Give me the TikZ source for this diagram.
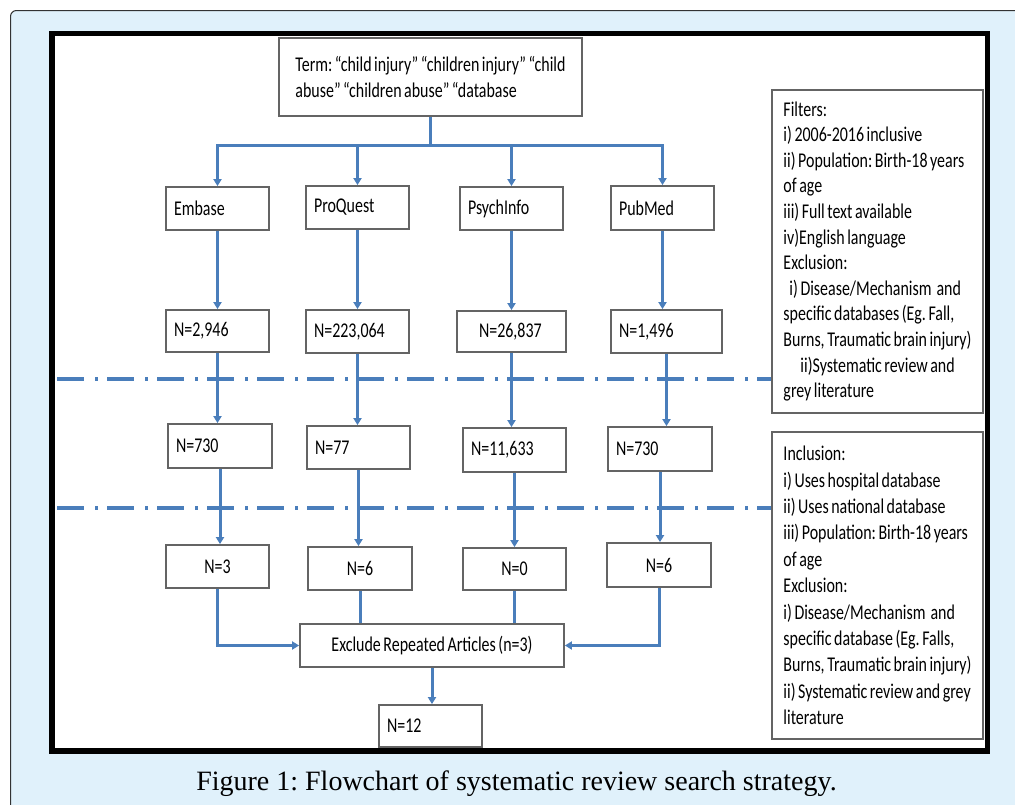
\documentclass[tikz,border=0pt]{standalone}
\usepackage{fontspec}
\setmainfont{Liberation Serif}
\newfontfamily\cf[FakeStretch=0.76,WordSpace=0.7]{Carlito}
\usetikzlibrary{arrows.meta}
\definecolor{panel}{HTML}{E0F1FB}
\definecolor{lnblue}{HTML}{4A7EBB}
\definecolor{boxgray}{HTML}{646464}
\tikzset{
  box/.style={draw=boxgray, line width=1.8pt, fill=white, font=\cf\fontsize{21}{26}\selectfont,
              inner xsep=8pt, inner ysep=0pt, align=flush left},
  cbox/.style={box, align=flush center},
  arr/.style={draw=lnblue, line width=3pt, -{Triangle[length=7pt,width=8pt]}},
  ln/.style={draw=lnblue, line width=3pt},
  dd/.style={draw=lnblue, line width=4pt, dash pattern=on 27pt off 11pt on 3pt off 9pt}
}
\begin{document}
\frenchspacing
\begin{tikzpicture}[x=1pt,y=-1pt]
\useasboundingbox (0,0) rectangle (1015,804);
\clip (0,0) rectangle (1015,804);
\draw[fill=panel, draw=black!80, line width=1pt, rounded corners=6pt] (10.5,10.5) rectangle (1040,830);
\draw[line width=5.5pt, fill=white] (52,33.5) rectangle (987.5,751);

% dash-dot separators
\coordinate (d1) at (57,379);
\coordinate (d2) at (57,508);

% nodes
\node[box, minimum width=303pt, minimum height=78pt] (term) at (430.5,77)
  {Term: “child injury” “children injury” “child\\abuse” “children abuse” “database};

\node[box, text width=87pt, minimum height=43pt] (emb) at (217.5,208.5) {Embase};
\node[box, text width=87pt, minimum height=43pt] (pq)  at (357.5,207.5) {ProQuest};
\node[box, text width=87pt, minimum height=43pt] (psy) at (511.5,208.5) {PsychInfo};
\node[box, text width=87pt, minimum height=44pt] (pm)  at (662.5,208) {PubMed};

\node[box, text width=87pt, minimum height=42pt] (n1) at (217.5,331) {N=2,946};
\node[box, text width=87pt, minimum height=43pt] (n2) at (357.5,331.5) {N=223,064};
\node[box, text width=93pt, minimum height=41pt] (n3) at (511.5,331.5) {\hspace*{14pt}N=26,837};
\node[box, text width=95pt, minimum height=43pt] (n4) at (666.5,331.5) {N=1,496};

\node[box, text width=88pt, minimum height=44pt] (m1) at (220,446) {N=730};
\node[box, text width=87pt, minimum height=43pt] (m2) at (358.5,447.5) {N=77};
\node[box, text width=87pt, minimum height=44pt] (m3) at (514.5,450) {N=11,633};
\node[box, text width=88pt, minimum height=44pt] (m4) at (660,449) {N=730};

\node[cbox, minimum width=103pt, minimum height=43pt] (r1) at (217.5,566.5) {N=3};
\node[cbox, minimum width=104pt, minimum height=43pt] (r2) at (360,568.5) {N=6};
\node[cbox, minimum width=103pt, minimum height=42pt] (r3) at (514.5,569) {N=0};
\node[cbox, minimum width=104pt, minimum height=44pt] (r4) at (659,565) {N=6};

\node[cbox, minimum width=264pt, minimum height=43pt] (excl) at (432,645.5) {Exclude Repeated Articles (n=3)};
\node[box, text width=87pt, minimum height=42pt] (fin) at (430.5,726) {N=12};

\node[box, minimum width=211pt, minimum height=323pt, font=\cf\fontsize{21}{25.6}\selectfont] (filt) at (877.5,251.5)
  {Filters:\\
   i) 2006-2016 inclusive\\
   ii) Population: Birth-18 years\\
   of age\\
   iii) Full text available\\
   iv)English language\\
   Exclusion:\\
   \hspace*{6pt}i) Disease/Mechanism\ \ and\\
   specific databases (Eg. Fall,\\
   Burns, Traumatic brain injury)\\
   \hspace*{17pt}ii)Systematic review and\\
   grey literature};

\node[box, minimum width=211pt, minimum height=307pt, font=\cf\fontsize{21}{26.4}\selectfont] (incl) at (877.5,585.5)
  {Inclusion:\\
   i) Uses hospital database\\
   ii) Uses national database\\
   iii) Population: Birth-18 years\\
   of age\\
   Exclusion:\\
   i) Disease/Mechanism\ \ and\\
   specific database (Eg. Falls,\\
   Burns, Traumatic brain injury)\\
   ii) Systematic review and grey\\
   literature};

\node[font=\fontsize{28}{32}\selectfont, inner sep=0pt] (cap) at (516.5,784)
  {Figure 1: Flowchart of systematic review search strategy.};

% separators
\draw[dd] (d1) -- (d1 -| filt.west);
\draw[dd] (d2) -- (d2 -| incl.west);

% connectors
\path (term.south) ++(0,29) coordinate (br);
\draw[ln] (term.south) -- (br);
\draw[arr] (br) -| (emb.north);
\draw[arr] (br) -| (pq.north);
\draw[arr] (br) -| (psy.north);
\draw[arr] (br) -| (pm.north);

\foreach \a/\b in {emb/n1, pq/n2, psy/n3, pm/n4, n1/m1, n2/m2, n3/m3, n4/m4, m1/r1, m2/r2, m3/r3, m4/r4}
  \draw[arr] (\a.south) -- (\a.south |- \b.north);

\draw[arr] (r1.south) |- (excl.west);
\draw[ln] (r2.south) -- (r2.south |- excl.north);
\draw[ln] (r3.south) -- (r3.south |- excl.north);
\draw[arr] (r4.south) |- (excl.east);
\draw[arr] (excl.south) -- (excl.south |- fin.north);
\end{tikzpicture}
\end{document}
